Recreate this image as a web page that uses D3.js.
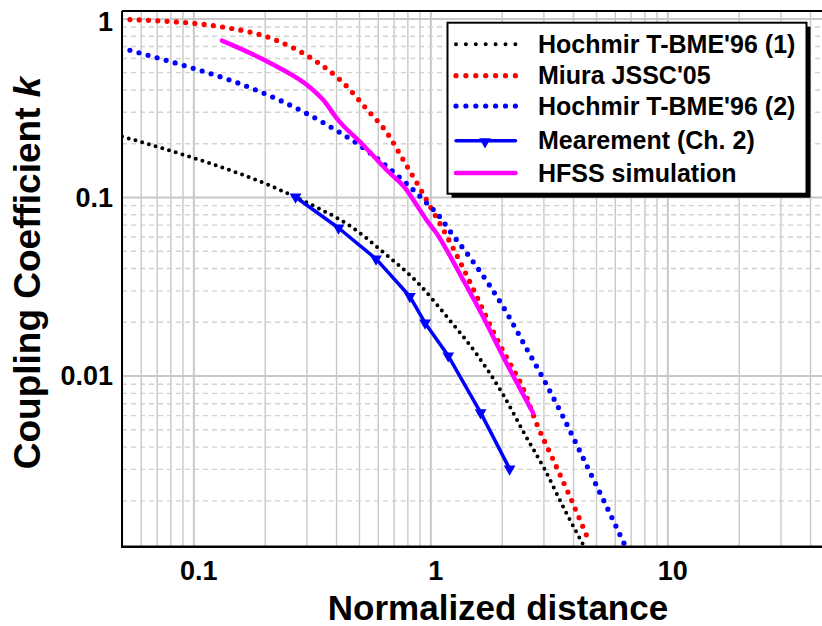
<!DOCTYPE html>
<html>
<head>
<meta charset="utf-8">
<script src="https://cdn.jsdelivr.net/npm/d3@7"></script>
<style>
  body { margin: 0; background: #fff; }
  svg { display: block; font-family: Arial, "Liberation Sans", sans-serif; font-weight: bold; }
</style>
</head>
<body>
<div id="chart"></div>
<script>
// Tick values and labels
const xTicks = [0.1, 1, 10];
const xTickLabels = ["0.1", "1", "10"];
const yTicks = [0.01, 0.1, 1];
const yTickLabels = ["0.01", "0.1", "1"];

// Legend names
const seriesNames = ["Hochmir T-BME'96 (1)", "Miura JSSC'05", "Hochmir T-BME'96 (2)", "Mearement (Ch. 2)", "HFSS simulation"];

// Hochmir T-BME'96 (1), black dotted
const hochmir1X = [0.05, 0.09, 0.15, 0.21, 0.255, 0.335, 0.45, 0.645, 0.9, 1.2, 1.56, 2.03, 2.5, 3.04, 3.69, 4.41];
const hochmir1Y = [0.218, 0.173, 0.138, 0.116, 0.1033, 0.0868, 0.07, 0.048, 0.0323, 0.0206, 0.0133, 0.0078, 0.0047, 0.00297, 0.00177, 0.00113];

// Miura JSSC'05, red dotted
const miuraX = [0.054, 0.132, 0.224, 0.325, 0.425, 0.542, 0.662, 0.747, 0.925, 1.026, 1.13, 1.365, 1.616, 1.839, 2.107, 2.46, 2.805, 3.3, 3.88, 4.71];
const miuraY = [0.985, 0.896, 0.754, 0.582, 0.441, 0.308, 0.225, 0.172, 0.106, 0.083, 0.0662, 0.0408, 0.0255, 0.0177, 0.0125, 0.0085, 0.0054, 0.00337, 0.0021, 0.00115];

// Hochmir T-BME'96 (2), blue dotted
const hochmir2X = [0.054, 0.101, 0.147, 0.225, 0.297, 0.423, 0.506, 0.611, 0.792, 0.955, 1.113, 1.198, 1.466, 1.769, 2.095, 2.5, 2.96, 3.58, 4.66, 5.54, 6.56];
const hochmir2Y = [0.663, 0.523, 0.445, 0.354, 0.296, 0.226, 0.194, 0.16, 0.119, 0.0937, 0.0755, 0.0656, 0.0461, 0.0323, 0.0226, 0.0148, 0.0099, 0.0061, 0.00297, 0.00185, 0.00115];

// Measurement (Ch. 2), blue with triangles
const measX = [0.27, 0.41, 0.59, 0.82, 0.95, 1.19, 1.63, 2.16];
const measY = [0.1, 0.067, 0.045, 0.0277, 0.0197, 0.0129, 0.0062, 0.003];

// HFSS simulation, magenta
const hfssX = [0.132, 0.224, 0.309, 0.352, 0.407, 0.519, 0.652, 0.792, 0.873, 0.962, 1.06, 1.374, 1.667, 2.026, 2.714];
const hfssY = [0.751, 0.539, 0.413, 0.351, 0.271, 0.196, 0.142, 0.11, 0.0906, 0.0746, 0.0628, 0.0344, 0.0214, 0.0128, 0.00617];

const zip = (xs, ys) => xs.map((v, i) => [v, ys[i]]);

// Layout
const width = 822, height = 626;
const plot = {left: 122, right: 833, top: 11, bottom: 546.7};

const svg = d3.select("#chart").append("svg")
    .attr("width", width)
    .attr("height", height);

// Scales
const x = d3.scaleLog().domain([0.05, 50]).range([plot.left, plot.right]);
const y = d3.scaleLog().domain([0.0011, 1.1]).range([plot.bottom, plot.top]);

const isDecade = d => Math.abs(Math.log10(d) - Math.round(Math.log10(d))) < 1e-6;

// Vertical grid
const xGrid = svg.append("g")
    .attr("transform", `translate(0,${plot.bottom})`)
    .call(d3.axisBottom(x).tickValues(x.ticks()).tickSize(-(plot.bottom - plot.top)).tickFormat(""));
xGrid.select(".domain").remove();
xGrid.selectAll("line")
    .attr("stroke", "#c8c8c8")
    .attr("stroke-width", d => isDecade(d) ? 2 : 1.4);

// Horizontal grid
const yGrid = svg.append("g")
    .attr("transform", `translate(${plot.left},0)`)
    .call(d3.axisLeft(y).tickValues(y.ticks()).tickSize(-(plot.right - plot.left)).tickFormat(""));
yGrid.select(".domain").remove();
yGrid.selectAll("line")
    .attr("stroke", d => isDecade(d) ? "#c8c8c8" : "#d2d2d2")
    .attr("stroke-width", d => isDecade(d) ? 2 : 1.4)
    .attr("stroke-dasharray", d => isDecade(d) ? null : "5,4");

// Clip for curves
svg.append("clipPath").attr("id", "clip")
    .append("rect")
    .attr("x", plot.left).attr("y", plot.top)
    .attr("width", plot.right - plot.left).attr("height", plot.bottom - plot.top);

const smooth = d3.line().x(d => x(d[0])).y(d => y(d[1])).curve(d3.curveMonotoneX);
const straight = d3.line().x(d => x(d[0])).y(d => y(d[1]));

const curves = svg.append("g").attr("clip-path", "url(#clip)");

const series = [
    {data: zip(hochmir1X, hochmir1Y), color: "#000000", width: 4, dash: "0 7", line: smooth},
    {data: zip(miuraX, miuraY), color: "#ff0000", width: 5.2, dash: "0 9.3", line: smooth},
    {data: zip(hochmir2X, hochmir2Y), color: "#0000ff", width: 5.2, dash: "0 9.4", line: smooth},
    {data: zip(measX, measY), color: "#0000ff", width: 3.5, dash: null, line: straight},
    {data: zip(hfssX, hfssY), color: "#ff00ff", width: 4.5, dash: null, line: smooth}
];

series.forEach(s => {
    curves.append("path")
        .datum(s.data)
        .attr("d", s.line)
        .attr("fill", "none")
        .attr("stroke", s.color)
        .attr("stroke-width", s.width)
        .attr("stroke-linecap", "round")
        .attr("stroke-linejoin", "round")
        .attr("stroke-dasharray", s.dash);
});

// Triangle markers for the measurement
const tri = d3.symbol().type(d3.symbolTriangle).size(60);
curves.selectAll(".marker")
    .data(zip(measX, measY))
    .join("path")
    .attr("class", "marker")
    .attr("d", tri)
    .attr("fill", "#0000ff")
    .attr("transform", d => `translate(${x(d[0])},${y(d[1])}) rotate(180)`);

// Frame
svg.append("line").attr("x1", plot.left).attr("x2", width).attr("y1", plot.top).attr("y2", plot.top)
    .attr("stroke", "#000").attr("stroke-width", 2);
svg.append("line").attr("x1", plot.left).attr("x2", plot.left).attr("y1", plot.top).attr("y2", plot.bottom)
    .attr("stroke", "#000").attr("stroke-width", 2);
svg.append("line").attr("x1", plot.left - 1).attr("x2", width).attr("y1", plot.bottom).attr("y2", plot.bottom)
    .attr("stroke", "#000").attr("stroke-width", 2.5);

// Tick labels
const xAxis = svg.append("g")
    .attr("transform", `translate(0,${plot.bottom})`)
    .call(d3.axisBottom(x).tickValues(xTicks).tickSize(0).tickFormat((d, i) => xTickLabels[i]));
xAxis.select(".domain").remove();
xAxis.selectAll("text")
    .attr("y", 33.3).attr("dy", 0).attr("dx", 5)
    .attr("fill", "#000")
    .style("font-size", "27px").style("font-weight", "bold")
    .style("font-family", "Arial, 'Liberation Sans', sans-serif");

const yAxis = svg.append("g")
    .attr("transform", `translate(${plot.left},0)`)
    .call(d3.axisLeft(y).tickValues(yTicks).tickSize(0).tickPadding(9).tickFormat((d, i) => yTickLabels[i]));
yAxis.select(".domain").remove();
yAxis.selectAll("text")
    .attr("fill", "#000")
    .attr("dy", d => d === 1 ? "0.45em" : "0.34em")
    .style("font-size", "27px").style("font-weight", "bold")
    .style("font-family", "Arial, 'Liberation Sans', sans-serif");

// Axis titles
svg.append("text")
    .attr("x", 498).attr("y", 620)
    .attr("text-anchor", "middle")
    .style("font-size", "35px")
    .text("Normalized distance");

const yTitle = svg.append("text")
    .attr("transform", "translate(40,273) rotate(-90)")
    .attr("text-anchor", "middle")
    .style("font-size", "37px");
yTitle.append("tspan").text("Coupling Coefficient ");
yTitle.append("tspan").style("font-style", "italic").text("k");

// Legend
const legend = {x: 447.5, y: 22.7, w: 359, h: 171};
const rowY = [44.3, 75.7, 106, 140.7, 173];
const lg = svg.append("g");
lg.append("rect")
    .attr("x", legend.x + 4).attr("y", legend.y + 4)
    .attr("width", legend.w).attr("height", legend.h)
    .attr("fill", "#000");
lg.append("rect")
    .attr("x", legend.x).attr("y", legend.y)
    .attr("width", legend.w).attr("height", legend.h)
    .attr("fill", "#fff").attr("stroke", "#000").attr("stroke-width", 2);

const legendDash = ["0 9.9", "0 9.9", "0 9.9", null, null];
series.forEach((s, i) => {
    lg.append("line")
        .attr("x1", 456).attr("x2", 515.5)
        .attr("y1", rowY[i]).attr("y2", rowY[i])
        .attr("stroke", s.color)
        .attr("stroke-width", s.width)
        .attr("stroke-linecap", "round")
        .attr("stroke-dasharray", legendDash[i]);
    lg.append("text")
        .attr("x", 538).attr("y", rowY[i])
        .attr("dy", "0.35em")
        .style("font-size", "25px")
        .text(seriesNames[i]);
});
lg.append("path")
    .attr("d", tri)
    .attr("fill", "#0000ff")
    .attr("transform", `translate(485,${rowY[3] + 1}) rotate(180)`);
</script>
</body>
</html>
